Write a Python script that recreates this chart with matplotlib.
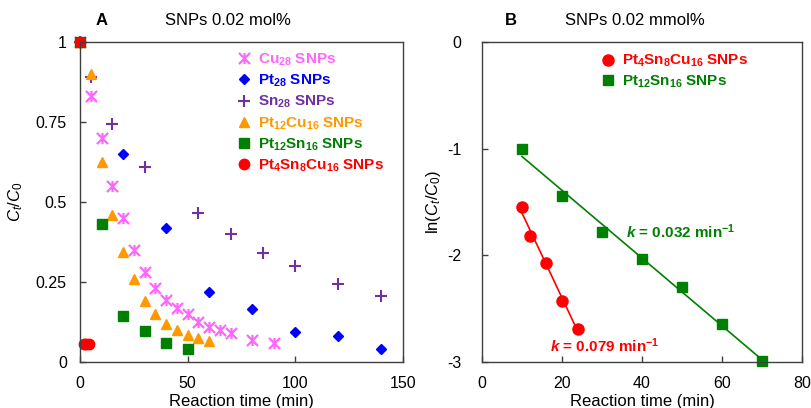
import numpy as np
import matplotlib
matplotlib.use("Agg")
import matplotlib.pyplot as plt
from matplotlib.path import Path

plt.rcParams['font.family'] = ['Liberation Sans', 'DejaVu Sans']
plt.rcParams['mathtext.fontset'] = 'custom'
plt.rcParams['mathtext.rm'] = 'Liberation Sans'
plt.rcParams['mathtext.it'] = 'Liberation Sans:italic'
plt.rcParams['mathtext.bf'] = 'Liberation Sans:bold'
plt.rcParams['mathtext.bfit'] = 'Liberation Sans:italic:bold'
plt.rcParams['axes.unicode_minus'] = False

# ---------------- Panel A data ----------------
cu28_t = [0, 5, 10, 15, 20, 25, 30, 35, 40, 45, 50, 55, 60, 65, 70, 80, 90]
cu28_c = [1, 0.83, 0.70, 0.55, 0.45, 0.35, 0.28, 0.23, 0.195, 0.17, 0.15, 0.125, 0.11, 0.10, 0.09, 0.07, 0.06]
pt28_t = [0, 20, 40, 60, 80, 100, 120, 140]
pt28_c = [1, 0.65, 0.42, 0.22, 0.165, 0.095, 0.08, 0.04]
sn28_t = [0, 5, 15, 30, 55, 70, 85, 100, 120, 140]
sn28_c = [1, 0.89, 0.745, 0.61, 0.465, 0.40, 0.34, 0.30, 0.245, 0.205]
ptcu_t = [0, 5, 10, 15, 20, 25, 30, 35, 40, 45, 50, 55, 60]
ptcu_c = [1, 0.90, 0.625, 0.46, 0.345, 0.26, 0.19, 0.15, 0.12, 0.10, 0.085, 0.075, 0.065]
ptsn_t = [0, 10, 20, 30, 40, 50]
ptsn_c = [1, 0.43, 0.145, 0.098, 0.058, 0.04]
ptsncu_t = [0, 2, 3, 4]
ptsncu_c = [1, 0.055, 0.055, 0.055]

# ---------------- Panel B data ----------------
b_red_t = [10, 12, 16, 20, 24]
b_red_ln = [-1.55, -1.82, -2.07, -2.43, -2.69]
b_green_t = [10, 20, 30, 40, 50, 60, 70]
b_green_ln = [-1.00, -1.44, -1.78, -2.03, -2.30, -2.64, -2.99]

a_xticks = [0, 50, 100, 150]
a_yticks = [0, 0.25, 0.5, 0.75, 1]
a_yticklabels = ['0', '0.25', '0.5', '0.75', '1']
b_xticks = [0, 20, 40, 60, 80]
b_yticks = [0, -1, -2, -3]

C_CU = '#FF66FF'
C_PT = '#0000FF'
C_SN = '#7030A0'
C_PTCU = '#FF9900'
C_PTSN = '#008000'
C_RED = '#FF0000'

star = Path([(0, -1), (0, 1), (-1, -1), (1, 1), (-1, 1), (1, -1)],
            [Path.MOVETO, Path.LINETO, Path.MOVETO, Path.LINETO, Path.MOVETO, Path.LINETO])

fig = plt.figure(figsize=(8.12, 4.08), dpi=100)
axA = fig.add_axes([0.0985, 0.1127, 0.3978, 0.7843])
axB = fig.add_axes([0.5936, 0.1127, 0.3941, 0.7843])

for ax in (axA, axB):
    for s in ax.spines.values():
        s.set_color('#404040')
        s.set_linewidth(1.0)
    ax.tick_params(direction='in', length=4, width=1, color='#404040', labelsize=11.5)
    ax.tick_params(axis='x', pad=10)
axA.tick_params(axis='y', pad=9.5)
axB.tick_params(axis='y', pad=15)

# Panel A
axA.plot(cu28_t, cu28_c, linestyle='none', marker=star, markersize=8, mew=1.6, color=C_CU,
         label=r'Cu$_{\mathbf{28}}$ SNPs', clip_on=False)
axA.plot(pt28_t, pt28_c, linestyle='none', marker='D', markersize=5.3, color=C_PT,
         label=r'Pt$_{\mathbf{28}}$ SNPs', clip_on=False)
axA.plot(sn28_t, sn28_c, linestyle='none', marker='+', markersize=9, mew=1.5, color=C_SN,
         label=r'Sn$_{\mathbf{28}}$ SNPs', clip_on=False)
axA.plot(ptcu_t, ptcu_c, linestyle='none', marker='^', markersize=7.5, color=C_PTCU,
         label=r'Pt$_{\mathbf{12}}$Cu$_{\mathbf{16}}$ SNPs', clip_on=False)
axA.plot(ptsn_t, ptsn_c, linestyle='none', marker='s', markersize=6.5, color=C_PTSN,
         label=r'Pt$_{\mathbf{12}}$Sn$_{\mathbf{16}}$ SNPs', clip_on=False)
axA.plot(ptsncu_t, ptsncu_c, linestyle='none', marker='o', markersize=7.5, color=C_RED,
         label=r'Pt$_{\mathbf{4}}$Sn$_{\mathbf{8}}$Cu$_{\mathbf{16}}$ SNPs', clip_on=False)

axA.set_xlim(0, 150)
axA.set_ylim(0, 1)
axA.set_xticks(a_xticks)
axA.set_yticks(a_yticks)
axA.set_yticklabels(a_yticklabels)
axA.set_xlabel('Reaction time (min)', fontsize=12, labelpad=2)
axA.set_ylabel(r'$C_t$/$C_0$', fontsize=12, labelpad=8)
axA.legend(loc='upper left', bbox_to_anchor=(0.47, 0.99), frameon=False,
           labelcolor='linecolor', prop={'weight': 'bold', 'size': 11},
           handlelength=0.8, handletextpad=0.5, labelspacing=0.32, borderaxespad=0)
fig.text(0.118, 0.95, 'A', fontsize=12, fontweight='bold', ha='left', va='center')
fig.text(0.281, 0.95, 'SNPs 0.02 mol%', fontsize=12, ha='center', va='center')

# Panel B
kr, br = np.polyfit(b_red_t, b_red_ln, 1)
kg, bg = np.polyfit(b_green_t, b_green_ln, 1)
xr = np.array([min(b_red_t), max(b_red_t)])
xg = np.array([min(b_green_t), max(b_green_t)])
axB.plot(xr, kr * xr + br, color=C_RED, lw=1.2)
axB.plot(xg, kg * xg + bg, color=C_PTSN, lw=1.2)
axB.plot(b_red_t, b_red_ln, linestyle='none', marker='o', markersize=8, color=C_RED,
         label=r'Pt$_{\mathbf{4}}$Sn$_{\mathbf{8}}$Cu$_{\mathbf{16}}$ SNPs', clip_on=False)
axB.plot(b_green_t, b_green_ln, linestyle='none', marker='s', markersize=7.5, color=C_PTSN,
         label=r'Pt$_{\mathbf{12}}$Sn$_{\mathbf{16}}$ SNPs', clip_on=False)
axB.set_xlim(0, 80)
axB.set_ylim(-3, 0)
axB.set_xticks(b_xticks)
axB.set_yticks(b_yticks)
axB.set_xlabel('Reaction time (min)', fontsize=12, labelpad=2)
axB.set_ylabel(r'ln($C_t$/$C_0$)', fontsize=12, labelpad=3)
axB.legend(loc='upper left', bbox_to_anchor=(0.357, 0.985), frameon=False,
           labelcolor='linecolor', prop={'weight': 'bold', 'size': 11},
           handlelength=0.8, handletextpad=0.5, labelspacing=0.25, borderaxespad=0)
axB.text(36, -1.78, r'$\mathbfit{k}$ = 0.032 min$^{\mathbf{-1}}$', color=C_PTSN,
         fontsize=11, fontweight='bold', ha='left', va='center')
axB.text(17, -2.85, r'$\mathbfit{k}$ = 0.079 min$^{\mathbf{-1}}$', color=C_RED,
         fontsize=11, fontweight='bold', ha='left', va='center')
fig.text(0.622, 0.95, 'B', fontsize=12, fontweight='bold', ha='left', va='center')
fig.text(0.782, 0.95, 'SNPs 0.02 mmol%', fontsize=12, ha='center', va='center')

fig.savefig('out.png', dpi=100)
